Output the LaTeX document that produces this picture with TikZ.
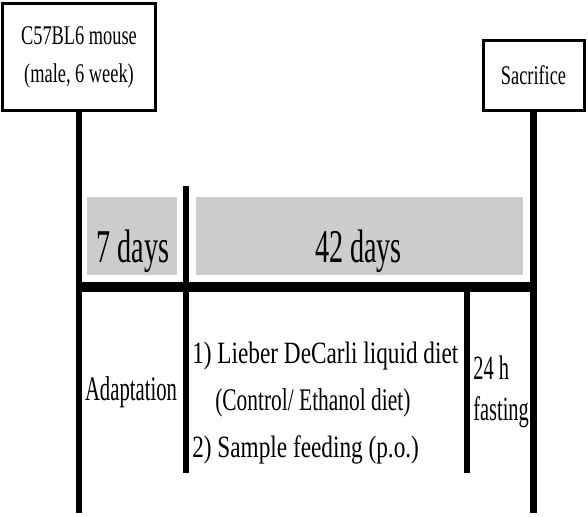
\documentclass[tikz,border=0pt]{standalone}
\usepackage{fontspec}
\setmainfont{Liberation Serif}
\newfontfamily\narrowA{Liberation Serif}[FakeStretch=0.6]
\newfontfamily\narrowB{Liberation Serif}[FakeStretch=0.68]
\newfontfamily\narrowC{Liberation Serif}[FakeStretch=0.75]
\usetikzlibrary{positioning}
\definecolor{periodgray}{RGB}{204,204,204}

\begin{document}
\begin{tikzpicture}[x=1pt,y=-1pt,semithick]
   \tikzstyle{every node}=[inner sep=0pt]
   \tikzstyle{event}=[draw,line width=3pt,fill=white,align=center,font=\narrowB\fontsize{27}{38}\selectfont]
   \tikzstyle{period}=[fill=periodgray,minimum height=78pt]
   \tikzstyle{days}=[anchor=base,font=\narrowA\fontsize{47}{50}\selectfont]
   \tikzstyle{axis}=[line width=6.5pt]
   \tikzstyle{note}=[anchor=base west,font=\narrowC\fontsize{31}{36}\selectfont]
   \useasboundingbox (0,0) rectangle (588,516);

   % start and end of the schedule
   \node[event,minimum width=153pt,minimum height=107pt] (mouse) at (79,57) {C57BL6 mouse\\(male, 6 week)};
   \node[event,minimum width=101pt,minimum height=70pt]  (sac)   at (533.5,75.5) {Sacrifice};

   % periods
   \node[period,minimum width=90pt]  (p7)  at (132,236)   {};
   \node[period,minimum width=327pt] (p42) at (359.5,236) {};
   \node[days] (d7)  at (133,262)   {7 days};
   \node[days] (d42) at (358.5,262) {42 days};

   \coordinate (mend) at (79,513);
   \coordinate (send) at (533.5,513);
   \coordinate (m1)   at (186,186);
   \coordinate (m2)   at (186,473);
   \coordinate (f1)   at (467,287);
   \coordinate (f2)   at (467,473);
   \coordinate (hl)   at (75.75,287);
   \coordinate (hr)   at (536.75,287);

   \draw[axis] (mouse.south) -- (mend);
   \draw[axis] (sac.south) -- (send);
   \draw[axis] (m1) -- (m2);
   \draw[axis] (f1) -- (f2);
   \draw[line width=10pt] (hl) -- (hr);

   % what happens in each period
   \node[anchor=base,font=\narrowA\fontsize{34.5}{40}\selectfont] (adapt) at (131,400) {Adaptation};
   \node[note] (diet) at (192,363) {1) Lieber DeCarli liquid diet};
   \node[note,font=\narrowB\fontsize{31.5}{36}\selectfont] (ctrl) at (215,410) {(Control/ Ethanol diet)};
   \node[note] (feed) at (192,457) {2) Sample feeding (p.o.)};
   \node[note,font=\narrowA\fontsize{34}{40}\selectfont] (hrs)  at (473,379) {24 h};
   \node[note,font=\narrowA\fontsize{34}{40}\selectfont] (fast) at (473,420) {fasting};
\end{tikzpicture}
\end{document}
